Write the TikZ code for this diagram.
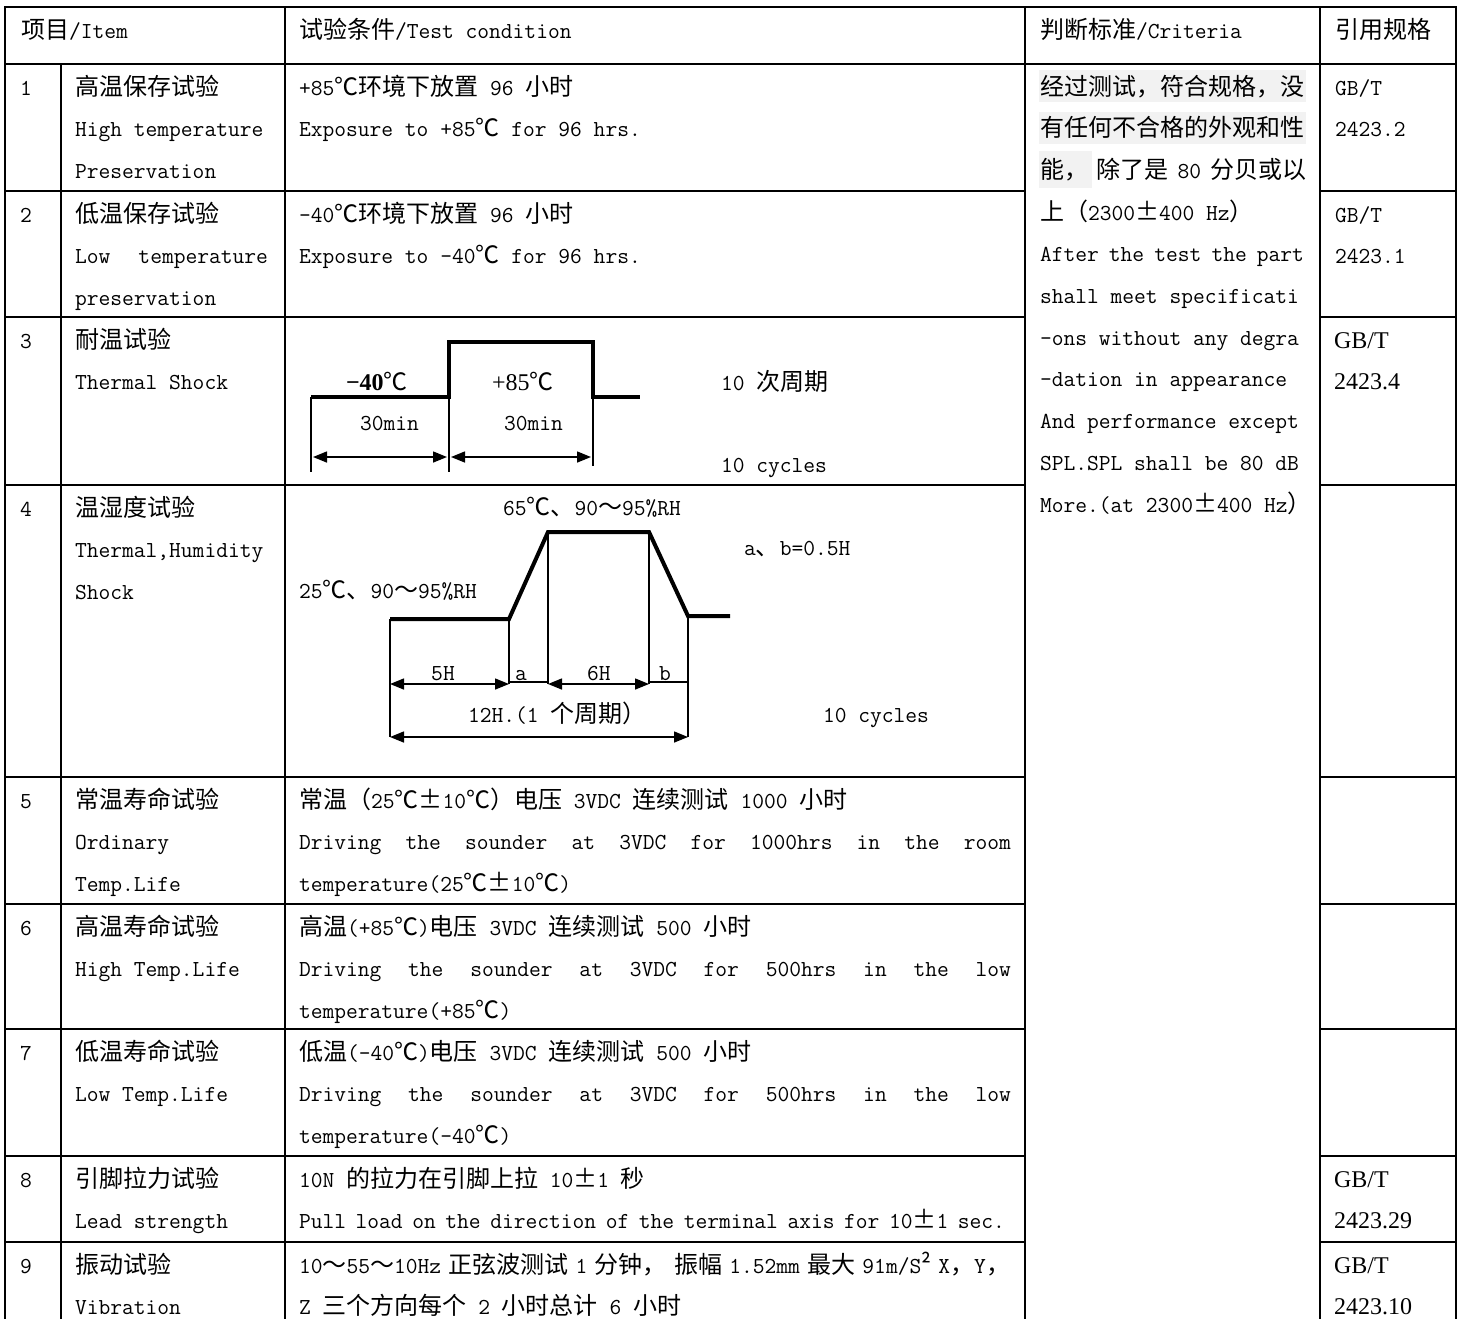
\documentclass[tikz,border=0pt]{standalone}
\usepackage{fontspec}
\setmainfont{Liberation Serif}
\newfontfamily\cjkfam{Noto Sans CJK SC}
\newcommand\cjkon{\cjkfam\fontsize{12pt}{14pt}\selectfont}
\usetikzlibrary{arrows.meta}
\ifdefined\newXeTeXintercharclass
  \newXeTeXintercharclass\CJKcls
\else
  \chardef\CJKcls=9
\fi
\newcount\cjkidx
\newcommand\setcjkrange[2]{%
  \cjkidx=#1\relax
  \loop
    \XeTeXcharclass\cjkidx=\CJKcls
    \advance\cjkidx by 1
  \ifnum\cjkidx<#2\relax
  \repeat}
\setcjkrange{"4E00}{"A000}
\setcjkrange{"3000}{"3040}
\setcjkrange{"FF00}{"FFF0}
\XeTeXcharclass"2103=\CJKcls
\XeTeXcharclass"00B1=\CJKcls
\XeTeXcharclass"00B2=\CJKcls
\XeTeXinterchartoks 0 \CJKcls = {\begingroup\cjkon}
\XeTeXinterchartoks 4095 \CJKcls = {\begingroup\cjkon}
\XeTeXinterchartoks \CJKcls 0 = {\endgroup}
\XeTeXinterchartoks \CJKcls 4095 = {\endgroup}
\tikzset{
  txt/.style={anchor=base west,inner sep=0pt,outer sep=0pt,font=\fontsize{11.43pt}{13pt}\ttfamily},
  tms/.style={anchor=base west,inner sep=0pt,outer sep=0pt,font=\fontsize{12pt}{14pt}\rmfamily},
  grid/.style={line width=1pt,line cap=rect},
  profile/.style={line width=2pt,line join=miter},
  thinln/.style={line width=0.75pt},
  dimarr/.style={line width=0.75pt,{Triangle[length=7pt,width=5.5pt]}-{Triangle[length=7pt,width=5.5pt]}},
  hilite/.style={fill=black!5},
}
\newcommand\Tx[4]{\node[txt] (#1) at (#2,#3) {#4};}
\newcommand\Ts[4]{\node[tms] (#1) at (#2,#3) {#4};}
\newcommand\Jx[5]{\node[txt] (#1) at (#2,#3) {\hbox to #4{#5}};}
\begin{document}
\XeTeXinterchartokenstate=1
\begin{tikzpicture}[x=0.5pt,y=-0.5pt]
\fill[white] (0,0) rectangle (1460,1318);
\useasboundingbox (0,0) rectangle (1460,1318);
% highlight behind criteria text
\fill[hilite] (1039,70) rectangle (1306,102);
\fill[hilite] (1039,112) rectangle (1306,144);
\fill[hilite] (1039,151) rectangle (1092,188);
% table grid
\draw[grid] (5,1318) -- (5,7) -- (1456,7) -- (1456,1318);
\draw[grid] (5,64) -- (1456,64);
\foreach \yy in {191,317,485,777,904,1029,1156,1242}{
  \draw[grid] (5,\yy) -- (1025,\yy);
  \draw[grid] (1320,\yy) -- (1456,\yy);
}
\draw[grid] (61,64) -- (61,1318);
\draw[grid] (285,7) -- (285,1318);
\draw[grid] (1025,7) -- (1025,1318);
\draw[grid] (1320,7) -- (1320,1318);
% header
\Tx{h1}{21}{38}{项目/Item}
\Tx{h2}{299}{38}{试验条件/Test condition}
\Tx{h3}{1040}{38}{判断标准/Criteria}
\Tx{h4}{1335}{38}{引用规格}
% numbers
\Tx{n1}{20}{95}{1}
\Tx{n2}{20}{222}{2}
\Tx{n3}{20}{348}{3}
\Tx{n4}{20}{516}{4}
\Tx{n5}{20}{808}{5}
\Tx{n6}{20}{935}{6}
\Tx{n7}{20}{1060}{7}
\Tx{n8}{20}{1187}{8}
\Tx{n9}{20}{1273}{9}
% items
\Tx{i1a}{75}{95}{高温保存试验}
\Tx{i1b}{75}{136.5}{High temperature}
\Tx{i1c}{75}{178}{Preservation}
\Tx{i2a}{75}{222}{低温保存试验}
\Jx{i2b}{75}{263.5}{96.5pt}{Low\hss temperature}
\Tx{i2c}{75}{305}{preservation}
\Tx{i3a}{75}{348}{耐温试验}
\Tx{i3b}{75}{389.5}{Thermal Shock}
\Tx{i4a}{75}{516}{温湿度试验}
\Tx{i4b}{75}{557.5}{Thermal,Humidity}
\Tx{i4c}{75}{599}{Shock}
\Tx{i5a}{75}{808}{常温寿命试验}
\Tx{i5b}{75}{849.5}{Ordinary}
\Tx{i5c}{75}{891}{Temp.Life}
\Tx{i6a}{75}{935}{高温寿命试验}
\Tx{i6b}{75}{976.5}{High Temp.Life}
\Tx{i7a}{75}{1060}{低温寿命试验}
\Tx{i7b}{75}{1101.5}{Low Temp.Life}
\Tx{i8a}{75}{1187}{引脚拉力试验}
\Tx{i8b}{75}{1228.5}{Lead strength}
\Tx{i9a}{75}{1273}{振动试验}
\Tx{i9b}{75}{1314.5}{Vibration}
% conditions
\Tx{c1a}{299}{95}{+85℃环境下放置 96 小时}
\Tx{c1b}{299}{136.5}{Exposure to +85℃ for 96 hrs.}
\Tx{c2a}{299}{222}{-40℃环境下放置 96 小时}
\Tx{c2b}{299}{263.5}{Exposure to -40℃ for 96 hrs.}
\Tx{c5a}{299}{808}{常温（25℃±10℃）电压 3VDC 连续测试 1000 小时}
\Jx{c5b}{299}{849.5}{356pt}{Driving\hss the\hss sounder\hss at\hss 3VDC\hss for\hss 1000hrs\hss in\hss the\hss room}
\Tx{c5c}{299}{891}{temperature(25℃±10℃)}
\Tx{c6a}{299}{935}{高温(+85℃)电压 3VDC 连续测试 500 小时}
\Jx{c6b}{299}{976.5}{356pt}{Driving\hss the\hss sounder\hss at\hss 3VDC\hss for\hss 500hrs\hss in\hss the\hss low}
\Tx{c6c}{299}{1018}{temperature(+85℃)}
\Tx{c7a}{299}{1060}{低温(-40℃)电压 3VDC 连续测试 500 小时}
\Jx{c7b}{299}{1101.5}{356pt}{Driving\hss the\hss sounder\hss at\hss 3VDC\hss for\hss 500hrs\hss in\hss the\hss low}
\Tx{c7c}{299}{1143}{temperature(-40℃)}
\Tx{c8a}{299}{1187}{10N 的拉力在引脚上拉 10±1 秒}
\Jx{c8b}{299}{1228.5}{353pt}{Pull\hss load\hss on\hss the\hss direction\hss of\hss the\hss terminal\hss axis\hss for\hss 10±1\hss sec.}
\Jx{c9a}{299}{1273}{355.5pt}{10～55～10Hz\hss 正弦波测试\hss 1\hss 分钟，\hss 振幅\hss 1.52mm\hss 最大\hss 91m/S²\hss X，Y，}
\Tx{c9b}{299}{1314.5}{Z 三个方向每个 2 小时总计 6 小时}
% criteria
\Tx{k0}{1040}{95}{经过测试，符合规格，没}
\Tx{k1}{1040}{136.7}{有任何不合格的外观和性}
\Jx{k2}{1040}{178.4}{133pt}{能，\hss 除了是\hss 80\hss 分贝或以}
\Tx{k3}{1040}{220.1}{上（2300±400 Hz）}
\Jx{k4}{1040}{261.8}{132pt}{After\hss the\hss test\hss the\hss part}
\Tx{k5}{1040}{303.5}{shall meet specificati}
\Tx{k6}{1040}{345.2}{-ons without any degra}
\Tx{k7}{1040}{386.9}{-dation in appearance}
\Tx{k8}{1040}{428.6}{And performance except}
\Tx{k9}{1040}{470.3}{SPL.SPL shall be 80 dB}
\Tx{k10}{1040}{512}{More.(at 2300±400 Hz）}
% standards
\Tx{s1a}{1335}{95}{GB/T}
\Tx{s1b}{1335}{136.5}{2423.2}
\Tx{s2a}{1335}{222}{GB/T}
\Tx{s2b}{1335}{263.5}{2423.1}
\Ts{s3a}{1334}{348}{GB/T}
\Ts{s3b}{1334}{389.5}{2423.4}
\Ts{s8a}{1334}{1187}{GB/T}
\Ts{s8b}{1334}{1228.5}{2423.29}
\Ts{s9a}{1334}{1273}{GB/T}
\Ts{s9b}{1334}{1314.5}{2423.10}
% thermal shock profile
\coordinate (t0) at (311,397);
\coordinate (t1) at (449,397);
\coordinate (t2) at (449,342);
\coordinate (t3) at (593,342);
\coordinate (t4) at (593,397);
\coordinate (t5) at (640,397);
\coordinate (t0d) at (311,472);
\coordinate (t1d) at (449,472);
\coordinate (t4d) at (593,466);
\coordinate (ta0) at (313,457);
\coordinate (ta1) at (447,457);
\coordinate (ta2) at (451,457);
\coordinate (ta3) at (591,457);
\draw[profile] (t0) -- (t1) -- (t2) -- (t3) -- (t4) -- (t5);
\draw[thinln] (t0) -- (t0d);
\draw[thinln] (t1) -- (t1d);
\draw[thinln] (t4) -- (t4d);
\draw[dimarr] (ta0) -- (ta1);
\draw[dimarr] (ta2) -- (ta3);
\Ts{tsA}{346}{390}{\textbf{−40}℃}
\Ts{tsB}{492}{390}{+85℃}
\Tx{tsC}{360}{430}{30min}
\Tx{tsD}{504}{430}{30min}
\Tx{tsE}{721}{390}{10 次周期}
\Tx{tsF}{721}{472}{10 cycles}
% humidity profile
\coordinate (u0) at (390,619);
\coordinate (u1) at (509,619);
\coordinate (u2) at (548,532);
\coordinate (u3) at (649,532);
\coordinate (u4) at (688,616);
\coordinate (u5) at (730,616);
\coordinate (u0d) at (390,737);
\coordinate (u1d) at (509,684);
\coordinate (u2d) at (548,684);
\coordinate (u3d) at (649,684);
\coordinate (u4d) at (688,737);
\coordinate (ua0) at (390,684);
\coordinate (ua1) at (509,684);
\coordinate (ua2) at (548,684);
\coordinate (ua3) at (649,684);
\coordinate (ub1) at (509,682);
\coordinate (ub2) at (548,682);
\coordinate (ub3) at (649,682);
\coordinate (ub4) at (688,682);
\coordinate (uc0) at (390,737);
\coordinate (uc1) at (688,737);
\draw[profile] (u0) -- (u1) -- (u2) -- (u3) -- (u4) -- (u5);
\draw[thinln] (u0) -- (u0d);
\draw[thinln] (u1) -- (u1d);
\draw[thinln] (u2) -- (u2d);
\draw[thinln] (u3) -- (u3d);
\draw[thinln] (u4) -- (u4d);
\draw[dimarr] (ua0) -- (ua1);
\draw[dimarr] (ua2) -- (ua3);
\draw[thinln] (ub1) -- (ub2);
\draw[thinln] (ub3) -- (ub4);
\draw[dimarr] (uc0) -- (uc1);
\Tx{hA}{503}{515}{65℃、90～95\%RH}
\Tx{hB}{744}{555}{a、b=0.5H}
\Tx{hC}{299}{598}{25℃、90～95\%RH}
\node[txt,anchor=base] (hD) at (443,680) {5H};
\node[txt,anchor=base] (hE) at (521,680) {a};
\node[txt,anchor=base] (hF) at (599,680) {6H};
\node[txt,anchor=base] (hG) at (665,680) {b};
\Tx{hH}{468}{722}{12H.(1 个周期）}
\Tx{hI}{823}{722}{10 cycles}
\end{tikzpicture}
\end{document}
